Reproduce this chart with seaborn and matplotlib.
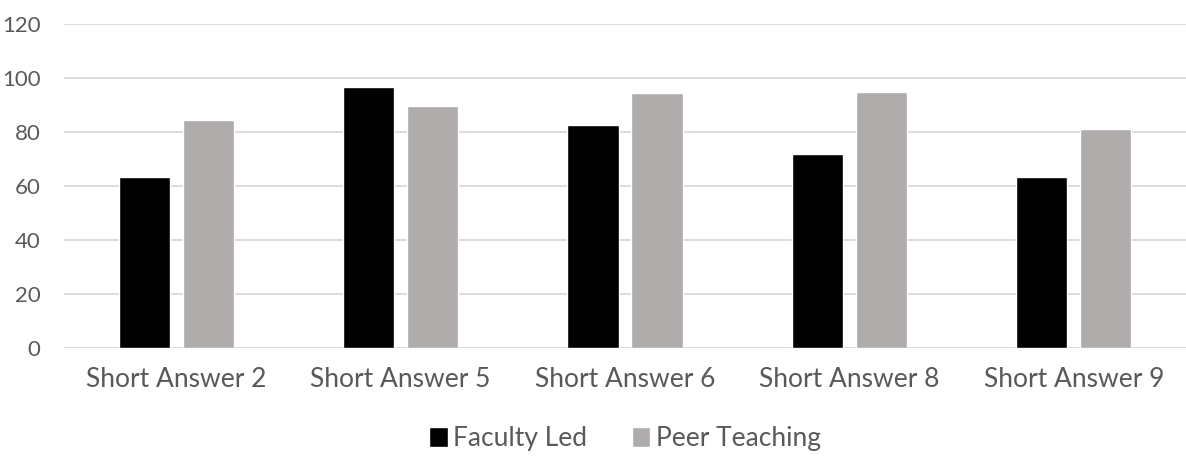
import matplotlib
matplotlib.use("Agg")
import matplotlib.pyplot as plt
import seaborn as sns
import pandas as pd

questions = ["Short Answer 2", "Short Answer 5", "Short Answer 6", "Short Answer 8", "Short Answer 9"]
faculty_led = [63.2, 96.5, 82.6, 72.0, 63.2]
peer_teaching = [84.4, 89.6, 94.3, 94.7, 81.1]
groups = ["Faculty Led", "Peer Teaching"]
y_ticks = [0, 20, 40, 60, 80, 100, 120]

df = pd.DataFrame({
    "question": questions * 2,
    "group": [groups[0]] * len(questions) + [groups[1]] * len(questions),
    "score": faculty_led + peer_teaching,
})

sns.set_style("white")
plt.rcParams["font.family"] = ["Lato", "DejaVu Sans"]

fig = plt.figure(figsize=(11.86, 4.59), dpi=100)
ax = fig.add_axes([0.054, 0.2418, 0.946, 0.7059])

sns.barplot(data=df, x="question", y="score", hue="group",
            palette=["#000000", "#afacab"], width=0.57, gap=0.2,
            saturation=1, ax=ax, legend=True)

ax.set_ylim(0, 120)
ax.set_xlim(-0.5, 4.5)
ax.set_yticks(y_ticks)
ax.yaxis.grid(True, color="#d9d9d9", linewidth=1.3)
ax.set_axisbelow(True)
for s in ax.spines.values():
    s.set_visible(False)
ax.set_xlabel("")
ax.set_ylabel("")
ax.tick_params(axis="both", length=0, colors="#595959")
ax.tick_params(axis="x", labelsize=19, pad=14)
ax.tick_params(axis="y", labelsize=16, pad=17)

handles, labels = ax.get_legend_handles_labels()
ax.legend(handles, labels, loc="center", bbox_to_anchor=(0.5, -0.28),
          ncol=2, frameon=False, fontsize=19, handlelength=0.7,
          handleheight=0.8, handletextpad=0.2, columnspacing=1.7,
          labelcolor="#595959")

fig.savefig("out.png", dpi=100)
